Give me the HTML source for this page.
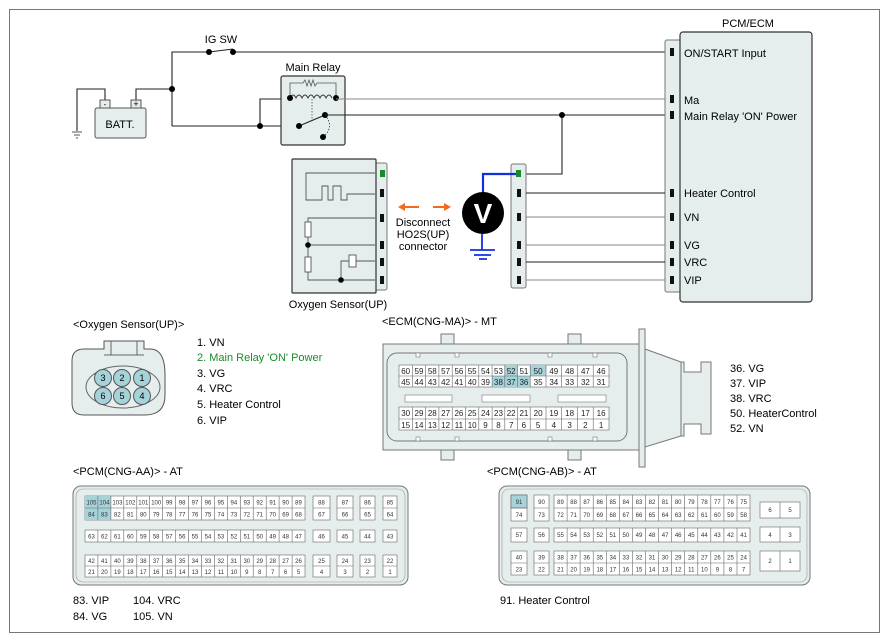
<!DOCTYPE html>
<html><head><meta charset="utf-8"><style>
html,body{margin:0;padding:0;background:#fff}
svg{display:block;font-family:"Liberation Sans",sans-serif}
.g text{font-size:6px;text-anchor:middle;fill:#333}
.e text{font-size:8px;text-anchor:middle;fill:#222}
.c{fill:#fff;stroke:#666;stroke-width:.6}
.w{stroke:#222;stroke-width:1.1;fill:none}
.wg{stroke:#888;stroke-width:1.1;fill:none}
.pin{fill:#111}
</style></head><body>
<svg width="888" height="640" viewBox="0 0 888 640">
<rect x="9.5" y="9.5" width="870" height="623" fill="#fff" stroke="#777" stroke-width="1"/>

<!-- wiring top -->
<text x="221" y="43" font-size="11" text-anchor="middle">IG SW</text>
<path class="w" d="M172 126V52H209M233 52H665"/>
<path class="w" d="M209 52L233 49"/>
<circle cx="209" cy="52" r="3"/><circle cx="233" cy="52" r="3"/>
<path class="w" d="M136 101V89H172M105 101V89H77V131"/>
<path d="M72 132H82M74 135H80M76 138H78" stroke="#555" stroke-width="1"/>
<circle cx="172" cy="89" r="3"/>
<rect x="95" y="108" width="51" height="30" rx="2" fill="#e6eded" stroke="#555"/>
<rect x="100" y="100" width="10" height="8" fill="#e6eded" stroke="#555"/>
<rect x="131" y="100" width="10" height="8" fill="#e6eded" stroke="#555"/>
<text x="105" y="107" font-size="8" text-anchor="middle">-</text>
<text x="136" y="107" font-size="9" text-anchor="middle">+</text>
<text x="120" y="128" font-size="11" text-anchor="middle">BATT.</text>
<path class="w" d="M172 126H299M260 126V99H290"/>
<circle cx="260" cy="126" r="3"/>

<text x="313" y="71" font-size="11" text-anchor="middle">Main Relay</text>
<rect x="281" y="76" width="64" height="69" rx="2" fill="#e6eded" stroke="#333" stroke-width="1.2"/>
<path d="M290 98V83H303l2-3 2 6 2-6 2 6 2-6 2 6 2-3H336V98" stroke="#555" fill="none" stroke-width=".8"/>
<path d="M290 98q3-6 6 0q3-6 6 0q3-6 6 0q3-6 6 0q3-6 6 0q3-6 6 0q3-6 6 0" stroke="#333" fill="none" stroke-width=".9"/>
<path d="M312 99V121" stroke="#555" stroke-dasharray="1.5 1.5" stroke-width=".8"/>
<path d="M299 126L325 115" class="w"/>
<path d="M325 115q10 12 -2 22" stroke="#333" fill="none" stroke-dasharray="1.5 1.5" stroke-width=".8"/>
<circle cx="290" cy="98" r="3"/><circle cx="336" cy="98" r="3"/><circle cx="299" cy="126" r="3"/><circle cx="325" cy="115" r="3"/><circle cx="323" cy="137" r="3"/>
<path class="wg" d="M336 99H665"/>
<path class="w" d="M325 115H665M562 115V174H526"/>
<circle cx="562" cy="115" r="3"/>

<!-- PCM/ECM -->
<text x="748" y="27" font-size="11" text-anchor="middle">PCM/ECM</text>
<rect x="665" y="40" width="16" height="252" rx="2" fill="#e6eded" stroke="#777"/>
<rect x="680" y="32" width="132" height="270" rx="3" fill="#e6eded" stroke="#333" stroke-width="1.2"/>
<g class="pin"><rect x="670" y="48" width="4" height="8"/><rect x="670" y="95" width="4" height="8"/><rect x="670" y="111" width="4" height="8"/><rect x="670" y="189" width="4" height="8"/><rect x="670" y="213" width="4" height="8"/><rect x="670" y="241" width="4" height="8"/><rect x="670" y="258" width="4" height="8"/><rect x="670" y="276" width="4" height="8"/></g>
<g font-size="11"><text x="684" y="57">ON/START Input</text><text x="684" y="104">Ma</text><text x="684" y="120">Main Relay 'ON' Power</text><text x="684" y="197">Heater Control</text><text x="684" y="221">VN</text><text x="684" y="249">VG</text><text x="684" y="266">VRC</text><text x="684" y="284">VIP</text></g>

<!-- middle connector -->
<rect x="511" y="164" width="15" height="124" rx="2" fill="#e6eded" stroke="#777"/>
<rect x="516" y="170" width="5" height="7" fill="#1a8a2a"/>
<g class="pin"><rect x="517" y="189" width="4" height="8"/><rect x="517" y="213" width="4" height="8"/><rect x="517" y="241" width="4" height="8"/><rect x="517" y="258" width="4" height="8"/><rect x="517" y="276" width="4" height="8"/></g>
<path class="w" d="M526 193H665M526 262H665"/>
<path class="wg" d="M526 217H665M526 245H665M526 280H665"/>
<path d="M483 193V174H516" stroke="#1030e0" stroke-width="2.2" fill="none"/>
<circle cx="483" cy="213" r="21" fill="#000"/>
<text x="483" y="223" font-size="28" font-weight="bold" fill="#fff" text-anchor="middle">V</text>
<path d="M482 234V250M470 250H495M474 255H491M479 259H487" stroke="#1030e0" stroke-width="1.8"/>

<!-- orange arrows -->
<path d="M402 207H419M433 207H447" stroke="#f26a1b" stroke-width="2"/>
<path d="M398 207l7-4v8z M451 207l-7-4v8z" fill="#f26a1b"/>
<g font-size="11" text-anchor="middle"><text x="423" y="226">Disconnect</text><text x="423" y="238">HO2S(UP)</text><text x="423" y="250">connector</text></g>

<!-- Sensor box -->
<rect x="375" y="163" width="12" height="127" rx="2" fill="#e6eded" stroke="#777"/>
<rect x="292" y="159" width="84" height="134" rx="1" fill="#e6eded" stroke="#333" stroke-width="1.2"/>
<rect x="380" y="170" width="5" height="7" fill="#1a8a2a"/>
<g class="pin"><rect x="380" y="189" width="4" height="8"/><rect x="380" y="214" width="4" height="8"/><rect x="380" y="241" width="4" height="8"/><rect x="380" y="258" width="4" height="8"/><rect x="380" y="276" width="4" height="8"/></g>
<g stroke="#555" fill="none" stroke-width=".9">
<path d="M375 173H306V200H322V186H328V200H333V186H341V200H347V194H375"/>
<path d="M375 218H308V222M308 237V280H375M308 245H375"/>
<path d="M341 280V261H349M356 261H375"/>
<rect x="305" y="222" width="6" height="15" fill="#fff"/>
<rect x="305" y="257" width="6" height="15" fill="#fff"/>
<rect x="349" y="255" width="7" height="12" fill="#fff"/>
</g>
<circle cx="308" cy="245" r="2.8"/><circle cx="341" cy="280" r="2.8"/>
<text x="338" y="308" font-size="11" text-anchor="middle">Oxygen Sensor(UP)</text>

<!-- Oxygen sensor connector -->
<text x="73" y="328" font-size="11">&lt;Oxygen Sensor(UP)&gt;</text>
<path d="M84 349H104V341H144V349H150Q165 349 165 375V395Q165 415 145 415H84Q72 415 72 403V361Q72 349 84 349Z" fill="#e6eded" stroke="#555"/>
<path d="M111 341V355M137 341V355M104 355H144" stroke="#666" fill="none"/>
<ellipse cx="123" cy="387" rx="37" ry="21" fill="none" stroke="#666"/>
<g fill="#a5d3d9" stroke="#555"><circle cx="103" cy="378" r="8.5"/><circle cx="122" cy="378" r="8.5"/><circle cx="142" cy="378" r="8.5"/><circle cx="103" cy="396" r="8.5"/><circle cx="122" cy="396" r="8.5"/><circle cx="142" cy="396" r="8.5"/></g>
<g font-size="9" text-anchor="middle"><text x="103" y="381">3</text><text x="122" y="381">2</text><text x="142" y="381">1</text><text x="103" y="399">6</text><text x="122" y="399">5</text><text x="142" y="399">4</text></g>
<g font-size="11"><text x="197" y="346">1. VN</text><text x="197" y="361" fill="#1a8a2a">2. Main Relay 'ON' Power</text><text x="197" y="377">3. VG</text><text x="197" y="392">4. VRC</text><text x="197" y="408">5. Heater Control</text><text x="197" y="424">6. VIP</text></g>

<!-- ECM connector -->
<text x="382" y="325" font-size="11">&lt;ECM(CNG-MA)&gt; - MT</text>
<g fill="#e6eded" stroke="#777">
<rect x="441" y="334" width="13" height="10"/><rect x="568" y="334" width="13" height="10"/>
<rect x="441" y="450" width="13" height="10"/><rect x="568" y="450" width="13" height="10"/>
<rect x="383" y="344" width="256" height="106"/>
<rect x="639" y="329" width="6" height="138"/>
<path d="M645 349L681 362V436L645 447Z"/>
<path d="M681 362H684V372H701V362H711V434H701V424H684V436H681Z"/>
<rect x="387" y="353" width="240" height="88" rx="10"/>
</g>
<g fill="#fff" stroke="#777" stroke-width=".6"><rect x="416" y="353" width="4" height="4"/><rect x="455" y="353" width="4" height="4"/><rect x="548" y="353" width="4" height="4"/><rect x="593" y="353" width="4" height="4"/><rect x="416" y="437" width="4" height="4"/><rect x="455" y="437" width="4" height="4"/><rect x="548" y="437" width="4" height="4"/><rect x="593" y="437" width="4" height="4"/>
<rect x="405" y="395" width="47" height="7"/><rect x="482" y="395" width="48" height="7"/><rect x="558" y="395" width="48" height="7"/></g>
<rect x="399" y="365" width="210" height="22" class="c"/>
<rect x="399" y="407" width="210" height="23" class="c"/>
<g fill="#a5d3d9"><rect x="504.8" y="365" width="12.7" height="11"/><rect x="530.2" y="365" width="15.8" height="11"/><rect x="492.1" y="376" width="38.1" height="11"/></g>
<path d="M399 376H609M399 419H609M412.3 365V387M425.6 365V387M438.9 365V387M452.2 365V387M465.5 365V387M478.8 365V387M492.1 365V387M504.8 365V387M517.5 365V387M530.2 365V387M546 365V387M561.7 365V387M577.5 365V387M593.2 365V387M412.3 407V430M425.6 407V430M438.9 407V430M452.2 407V430M465.5 407V430M478.8 407V430M492.1 407V430M504.8 407V430M517.5 407V430M530.2 407V430M546 407V430M561.7 407V430M577.5 407V430M593.2 407V430" stroke="#666" stroke-width=".6"/>
<g class="e">
<text y="374"><tspan x="405.7">60</tspan><tspan x="419">59</tspan><tspan x="432.3">58</tspan><tspan x="445.6">57</tspan><tspan x="458.9">56</tspan><tspan x="472.2">55</tspan><tspan x="485.5">54</tspan><tspan x="498.5">53</tspan><tspan x="511.2">52</tspan><tspan x="523.9">51</tspan><tspan x="538.1">50</tspan><tspan x="553.8">49</tspan><tspan x="569.6">48</tspan><tspan x="585.4">47</tspan><tspan x="601.1">46</tspan></text>
<text y="385"><tspan x="405.7">45</tspan><tspan x="419">44</tspan><tspan x="432.3">43</tspan><tspan x="445.6">42</tspan><tspan x="458.9">41</tspan><tspan x="472.2">40</tspan><tspan x="485.5">39</tspan><tspan x="498.5">38</tspan><tspan x="511.2">37</tspan><tspan x="523.9">36</tspan><tspan x="538.1">35</tspan><tspan x="553.8">34</tspan><tspan x="569.6">33</tspan><tspan x="585.4">32</tspan><tspan x="601.1">31</tspan></text>
<text y="416"><tspan x="405.7">30</tspan><tspan x="419">29</tspan><tspan x="432.3">28</tspan><tspan x="445.6">27</tspan><tspan x="458.9">26</tspan><tspan x="472.2">25</tspan><tspan x="485.5">24</tspan><tspan x="498.5">23</tspan><tspan x="511.2">22</tspan><tspan x="523.9">21</tspan><tspan x="538.1">20</tspan><tspan x="553.8">19</tspan><tspan x="569.6">18</tspan><tspan x="585.4">17</tspan><tspan x="601.1">16</tspan></text>
<text y="428"><tspan x="405.7">15</tspan><tspan x="419">14</tspan><tspan x="432.3">13</tspan><tspan x="445.6">12</tspan><tspan x="458.9">11</tspan><tspan x="472.2">10</tspan><tspan x="485.5">9</tspan><tspan x="498.5">8</tspan><tspan x="511.2">7</tspan><tspan x="523.9">6</tspan><tspan x="538.1">5</tspan><tspan x="553.8">4</tspan><tspan x="569.6">3</tspan><tspan x="585.4">2</tspan><tspan x="601.1">1</tspan></text>
</g>
<g font-size="11"><text x="730" y="372">36. VG</text><text x="730" y="387">37. VIP</text><text x="730" y="402">38. VRC</text><text x="730" y="417">50. HeaterControl</text><text x="730" y="432">52. VN</text></g>

<!-- PCM CNG-AA -->
<text x="73" y="475" font-size="11">&lt;PCM(CNG-AA)&gt; - AT</text>
<rect x="73" y="486" width="335" height="99" rx="8" fill="#e6eded" stroke="#777"/>
<rect x="76" y="489" width="329" height="93" rx="7" fill="none" stroke="#999" stroke-width=".6"/>
<rect x="85" y="496" width="220" height="24" class="c"/>
<rect x="85" y="530" width="220" height="12" class="c"/>
<rect x="85" y="555" width="220" height="22" class="c"/>
<rect x="85" y="496" width="25.9" height="24" fill="#a5d3d9"/>
<g class="c"><rect x="313" y="496" width="17" height="24"/><rect x="337" y="496" width="16" height="24"/><rect x="360" y="496" width="15" height="24"/><rect x="383" y="496" width="14" height="24"/>
<rect x="313" y="530" width="17" height="12"/><rect x="337" y="530" width="16" height="12"/><rect x="360" y="530" width="15" height="12"/><rect x="383" y="530" width="14" height="12"/>
<rect x="313" y="555" width="17" height="22"/><rect x="337" y="555" width="16" height="22"/><rect x="360" y="555" width="15" height="22"/><rect x="383" y="555" width="14" height="22"/></g>
<path d="M85 508H305M85 566H305M313 508H330M337 508H353M360 508H375M383 508H397M313 566H330M337 566H353M360 566H375M383 566H397M97.9 496V520M110.9 496V520M123.8 496V520M136.8 496V520M149.7 496V520M162.6 496V520M175.6 496V520M188.5 496V520M201.5 496V520M214.4 496V520M227.4 496V520M240.3 496V520M253.2 496V520M266.2 496V520M279.1 496V520M292.1 496V520M97.9 530V542M110.9 530V542M123.8 530V542M136.8 530V542M149.7 530V542M162.6 530V542M175.6 530V542M188.5 530V542M201.5 530V542M214.4 530V542M227.4 530V542M240.3 530V542M253.2 530V542M266.2 530V542M279.1 530V542M292.1 530V542M97.9 555V577M110.9 555V577M123.8 555V577M136.8 555V577M149.7 555V577M162.6 555V577M175.6 555V577M188.5 555V577M201.5 555V577M214.4 555V577M227.4 555V577M240.3 555V577M253.2 555V577M266.2 555V577M279.1 555V577M292.1 555V577" stroke="#666" stroke-width=".6"/>
<g class="g">
<text y="504.5"><tspan x="91.5">105</tspan><tspan x="104.4">104</tspan><tspan x="117.4">103</tspan><tspan x="130.3">102</tspan><tspan x="143.3">101</tspan><tspan x="156.2">100</tspan><tspan x="169.2">99</tspan><tspan x="182.1">98</tspan><tspan x="195">97</tspan><tspan x="208">96</tspan><tspan x="220.9">95</tspan><tspan x="233.9">94</tspan><tspan x="246.8">93</tspan><tspan x="259.7">92</tspan><tspan x="272.7">91</tspan><tspan x="285.6">90</tspan><tspan x="298.5">89</tspan><tspan x="321.5">88</tspan><tspan x="345">87</tspan><tspan x="367.5">86</tspan><tspan x="390">85</tspan></text>
<text y="516.5"><tspan x="91.5">84</tspan><tspan x="104.4">83</tspan><tspan x="117.4">82</tspan><tspan x="130.3">81</tspan><tspan x="143.3">80</tspan><tspan x="156.2">79</tspan><tspan x="169.2">78</tspan><tspan x="182.1">77</tspan><tspan x="195">76</tspan><tspan x="208">75</tspan><tspan x="220.9">74</tspan><tspan x="233.9">73</tspan><tspan x="246.8">72</tspan><tspan x="259.7">71</tspan><tspan x="272.7">70</tspan><tspan x="285.6">69</tspan><tspan x="298.5">68</tspan><tspan x="321.5">67</tspan><tspan x="345">66</tspan><tspan x="367.5">65</tspan><tspan x="390">64</tspan></text>
<text y="538.5"><tspan x="91.5">63</tspan><tspan x="104.4">62</tspan><tspan x="117.4">61</tspan><tspan x="130.3">60</tspan><tspan x="143.3">59</tspan><tspan x="156.2">58</tspan><tspan x="169.2">57</tspan><tspan x="182.1">56</tspan><tspan x="195">55</tspan><tspan x="208">54</tspan><tspan x="220.9">53</tspan><tspan x="233.9">52</tspan><tspan x="246.8">51</tspan><tspan x="259.7">50</tspan><tspan x="272.7">49</tspan><tspan x="285.6">48</tspan><tspan x="298.5">47</tspan><tspan x="321.5">46</tspan><tspan x="345">45</tspan><tspan x="367.5">44</tspan><tspan x="390">43</tspan></text>
<text y="563"><tspan x="91.5">42</tspan><tspan x="104.4">41</tspan><tspan x="117.4">40</tspan><tspan x="130.3">39</tspan><tspan x="143.3">38</tspan><tspan x="156.2">37</tspan><tspan x="169.2">36</tspan><tspan x="182.1">35</tspan><tspan x="195">34</tspan><tspan x="208">33</tspan><tspan x="220.9">32</tspan><tspan x="233.9">31</tspan><tspan x="246.8">30</tspan><tspan x="259.7">29</tspan><tspan x="272.7">28</tspan><tspan x="285.6">27</tspan><tspan x="298.5">26</tspan><tspan x="321.5">25</tspan><tspan x="345">24</tspan><tspan x="367.5">23</tspan><tspan x="390">22</tspan></text>
<text y="574"><tspan x="91.5">21</tspan><tspan x="104.4">20</tspan><tspan x="117.4">19</tspan><tspan x="130.3">18</tspan><tspan x="143.3">17</tspan><tspan x="156.2">16</tspan><tspan x="169.2">15</tspan><tspan x="182.1">14</tspan><tspan x="195">13</tspan><tspan x="208">12</tspan><tspan x="220.9">11</tspan><tspan x="233.9">10</tspan><tspan x="246.8">9</tspan><tspan x="259.7">8</tspan><tspan x="272.7">7</tspan><tspan x="285.6">6</tspan><tspan x="298.5">5</tspan><tspan x="321.5">4</tspan><tspan x="345">3</tspan><tspan x="367.5">2</tspan><tspan x="390">1</tspan></text>
</g>
<g font-size="11"><text x="73" y="604">83. VIP</text><text x="133" y="604">104. VRC</text><text x="73" y="620">84. VG</text><text x="133" y="620">105. VN</text></g>

<!-- PCM CNG-AB -->
<text x="487" y="475" font-size="11">&lt;PCM(CNG-AB)&gt; - AT</text>
<rect x="499" y="486" width="311" height="99" rx="8" fill="#e6eded" stroke="#777"/>
<rect x="502" y="489" width="305" height="93" rx="7" fill="none" stroke="#999" stroke-width=".6"/>
<g class="c">
<rect x="511" y="495" width="16" height="26"/><rect x="534" y="495" width="15" height="26"/><rect x="554" y="495" width="196" height="26"/>
<rect x="511" y="528" width="16" height="14"/><rect x="534" y="528" width="15" height="14"/><rect x="554" y="528" width="196" height="14"/>
<rect x="511" y="551" width="16" height="24"/><rect x="534" y="551" width="15" height="24"/><rect x="554" y="551" width="196" height="24"/>
<rect x="760" y="502" width="40" height="16"/><rect x="760" y="527" width="40" height="15"/><rect x="760" y="551" width="40" height="20"/>
</g>
<rect x="511" y="495" width="16" height="13" fill="#a5d3d9" stroke="#666" stroke-width=".6"/>
<path d="M511 508H527M534 508H549M554 508H750M511 563H527M534 563H549M554 563H750M780 502V518M780 527V542M780 551V571M567.1 495V521M580.1 495V521M593.2 495V521M606.3 495V521M619.4 495V521M632.4 495V521M645.5 495V521M658.6 495V521M671.6 495V521M684.7 495V521M697.8 495V521M710.8 495V521M723.9 495V521M737 495V521M567.1 528V542M580.1 528V542M593.2 528V542M606.3 528V542M619.4 528V542M632.4 528V542M645.5 528V542M658.6 528V542M671.6 528V542M684.7 528V542M697.8 528V542M710.8 528V542M723.9 528V542M737 528V542M567.1 551V575M580.1 551V575M593.2 551V575M606.3 551V575M619.4 551V575M632.4 551V575M645.5 551V575M658.6 551V575M671.6 551V575M684.7 551V575M697.8 551V575M710.8 551V575M723.9 551V575M737 551V575" stroke="#666" stroke-width=".6"/>
<g class="g">
<text y="504"><tspan x="519">91</tspan><tspan x="541.5">90</tspan><tspan x="560.5">89</tspan><tspan x="573.6">88</tspan><tspan x="586.7">87</tspan><tspan x="599.8">86</tspan><tspan x="612.8">85</tspan><tspan x="625.9">84</tspan><tspan x="639">83</tspan><tspan x="652">82</tspan><tspan x="665.1">81</tspan><tspan x="678.2">80</tspan><tspan x="691.3">79</tspan><tspan x="704.4">78</tspan><tspan x="717.4">77</tspan><tspan x="730.5">76</tspan><tspan x="743.6">75</tspan></text>
<text y="517"><tspan x="519">74</tspan><tspan x="541.5">73</tspan><tspan x="560.5">72</tspan><tspan x="573.6">71</tspan><tspan x="586.7">70</tspan><tspan x="599.8">69</tspan><tspan x="612.8">68</tspan><tspan x="625.9">67</tspan><tspan x="639">66</tspan><tspan x="652">65</tspan><tspan x="665.1">64</tspan><tspan x="678.2">63</tspan><tspan x="691.3">62</tspan><tspan x="704.4">61</tspan><tspan x="717.4">60</tspan><tspan x="730.5">59</tspan><tspan x="743.6">58</tspan></text>
<text y="537"><tspan x="519">57</tspan><tspan x="541.5">56</tspan><tspan x="560.5">55</tspan><tspan x="573.6">54</tspan><tspan x="586.7">53</tspan><tspan x="599.8">52</tspan><tspan x="612.8">51</tspan><tspan x="625.9">50</tspan><tspan x="639">49</tspan><tspan x="652">48</tspan><tspan x="665.1">47</tspan><tspan x="678.2">46</tspan><tspan x="691.3">45</tspan><tspan x="704.4">44</tspan><tspan x="717.4">43</tspan><tspan x="730.5">42</tspan><tspan x="743.6">41</tspan></text>
<text y="559.5"><tspan x="519">40</tspan><tspan x="541.5">39</tspan><tspan x="560.5">38</tspan><tspan x="573.6">37</tspan><tspan x="586.7">36</tspan><tspan x="599.8">35</tspan><tspan x="612.8">34</tspan><tspan x="625.9">33</tspan><tspan x="639">32</tspan><tspan x="652">31</tspan><tspan x="665.1">30</tspan><tspan x="678.2">29</tspan><tspan x="691.3">28</tspan><tspan x="704.4">27</tspan><tspan x="717.4">26</tspan><tspan x="730.5">25</tspan><tspan x="743.6">24</tspan></text>
<text y="571.5"><tspan x="519">23</tspan><tspan x="541.5">22</tspan><tspan x="560.5">21</tspan><tspan x="573.6">20</tspan><tspan x="586.7">19</tspan><tspan x="599.8">18</tspan><tspan x="612.8">17</tspan><tspan x="625.9">16</tspan><tspan x="639">15</tspan><tspan x="652">14</tspan><tspan x="665.1">13</tspan><tspan x="678.2">12</tspan><tspan x="691.3">11</tspan><tspan x="704.4">10</tspan><tspan x="717.4">9</tspan><tspan x="730.5">8</tspan><tspan x="743.6">7</tspan></text>
<text y="512"><tspan x="770">6</tspan><tspan x="790">5</tspan></text>
<text y="537"><tspan x="770">4</tspan><tspan x="790">3</tspan></text>
<text y="563"><tspan x="770">2</tspan><tspan x="790">1</tspan></text>
</g>
<text x="500" y="604" font-size="11">91. Heater Control</text>
</svg>
</body></html>
